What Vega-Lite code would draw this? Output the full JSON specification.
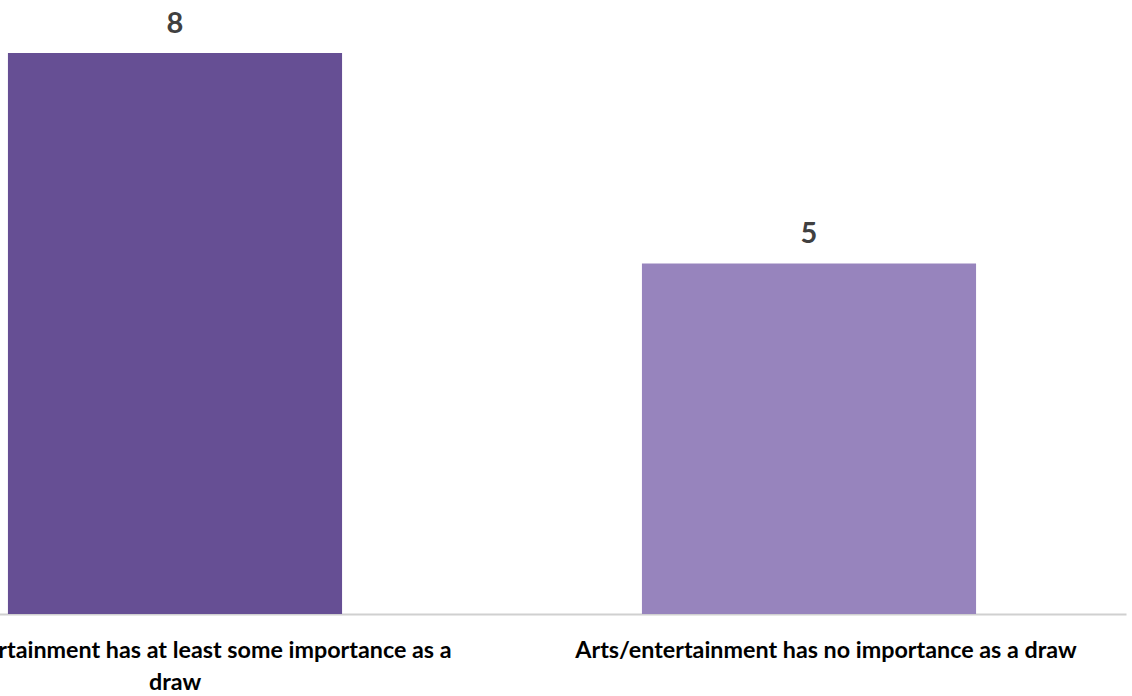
{
  "$schema": "https://vega.github.io/schema/vega-lite/v6.json",
  "autosize": "none",
  "width": 1268,
  "height": 561,
  "padding": {"left": -142, "top": 53, "right": 6, "bottom": 82},
  "background": "white",
  "config": {"view": {"stroke": null}},
  "data": {
    "values": [
      {"category": "Arts/entertainment has at least some importance as a draw", "value": 8, "group": "some"},
      {"category": "Arts/entertainment has no importance as a draw", "value": 5, "group": "none"}
    ]
  },
  "encoding": {
    "x": {
      "field": "category",
      "type": "nominal",
      "sort": null,
      "scale": {"paddingInner": 0.473, "paddingOuter": 0.2365},
      "axis": {
        "title": null,
        "labelAngle": 0,
        "labelFont": "Lato",
        "labelFontWeight": "bold",
        "labelFontSize": 23.3,
        "labelColor": "#000000",
        "labelLineHeight": 32,
        "labelPadding": 25,
        "labelLimit": 0,
        "labelBaseline": "top",
        "labelOverlap": false,
        "labelBound": false,
        "labelOffset": {"condition": {"test": "datum.value == 'Arts/entertainment has no importance as a draw'", "value": 17}, "value": 0},
        "ticks": false,
        "domainColor": "#d0d0d0",
        "domainWidth": 2,
        "grid": false,
        "labelExpr": "datum.value == 'Arts/entertainment has at least some importance as a draw' ? ['Arts/entertainment has at least some importance as a', 'draw'] : datum.label"
      }
    },
    "y": {
      "field": "value",
      "type": "quantitative",
      "scale": {"domain": [0, 8], "nice": false},
      "axis": null
    }
  },
  "layer": [
    {
      "mark": {"type": "bar"},
      "encoding": {
        "color": {
          "field": "group",
          "type": "nominal",
          "scale": {"domain": ["some", "none"], "range": ["#664f94", "#9784bd"]},
          "legend": null
        }
      }
    },
    {
      "mark": {"type": "text", "baseline": "alphabetic", "dy": -20, "font": "Lato", "fontWeight": "bold", "fontSize": 29, "color": "#404040"},
      "encoding": {"text": {"field": "value", "type": "quantitative"}}
    }
  ]
}
